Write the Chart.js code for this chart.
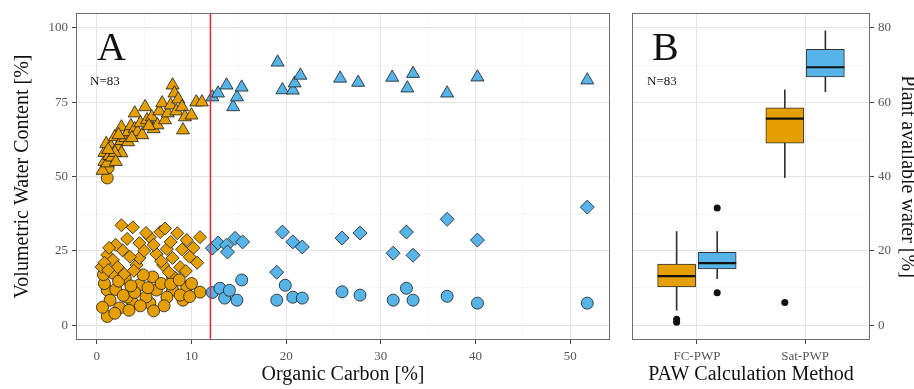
<!DOCTYPE html>
<html>
<head>
<meta charset="utf-8">
<title>Water content vs organic carbon</title>
<script src="https://cdn.jsdelivr.net/npm/chart.js@4"></script>
<style>
  html, body { margin: 0; padding: 0; background: #fff; overflow: hidden; }
  #wrap { position: relative; width: 914px; height: 389px; overflow: hidden; }
  .panel { position: absolute; top: 0; height: 389px; }
</style>
</head>
<body>
<div id="wrap">
  <div class="panel" style="left:0;width:620px"><canvas id="scatter"></canvas></div>
  <div class="panel" style="left:620px;width:310px"><canvas id="box"></canvas></div>
</div>
<script>
// ---- data: [organic carbon %, volumetric water content %] ----
const cutoffOC = 12;
const sampleCount = 83;

// saturation (triangles), OC < 12
const satMineral = [
  [0.6, 52], [0.8, 55], [0.8, 58], [1.1, 54.5], [1.0, 61], [1.3, 57], [1.6, 56.5], [1.5, 60],
  [1.9, 63.3], [2.2, 60], [2.6, 57.9], [2.6, 62], [2.6, 66.6], [3.0, 63], [3.3, 61.6], [3.3, 65],
  [3.6, 67], [4.0, 66], [4.0, 71.3], [4.3, 65], [4.6, 68], [4.8, 64], [5.1, 73.4], [5.3, 69],
  [5.8, 70], [6.0, 66], [6.4, 67.3], [6.6, 72], [6.9, 74.7], [7.2, 69], [7.5, 71.3], [7.8, 74],
  [8.0, 80.7], [8.2, 78], [8.4, 72], [8.6, 76], [9.0, 73.4], [9.1, 65.6], [9.3, 70], [10.0, 70.6],
  [10.5, 75], [11.1, 75], [1.9, 58], [2.3, 64], [3.7, 63], [5.5, 67], [2.0, 55], [1.2, 59]
];
const satMineralRound = [[1.1, 49.5], [1.2, 53]];
// field capacity (diamonds), OC < 12
const fcMineral = [
  [2.6, 33.6], [1.1, 23.6], [0.5, 19.6], [4.2, 20.2], [7.0, 20.2], [10.9, 29.6], [9.5, 28.6],
  [8.5, 30.9], [6.7, 31.3], [5.6, 29.6], [4.5, 27.6], [3.8, 32.9], [2.7, 25.2], [1.7, 21.9],
  [4.5, 22.6], [6.3, 23.9], [7.4, 25.6], [8.0, 22.6], [3.2, 29], [5.0, 25], [9.0, 25.5],
  [2.0, 27], [6.0, 27], [7.8, 28], [3.5, 23], [1.3, 26], [10.2, 26], [7.2, 32.5], [5.2, 31],
  [0.8, 21], [2.2, 19.5], [8.8, 19.5], [9.8, 23], [6.8, 21.5], [1.2, 18.5], [2.9, 17.2],
  [3.9, 18.3], [7.6, 17.8], [9.4, 18.2], [10.6, 21]
];
// permanent wilting point (circles), OC < 12
const pwpMineral = [
  [1.1, 11.8], [1.1, 2.9], [2.4, 5.8], [3.0, 15.8], [4.5, 13.5], [3.8, 7.4], [5.6, 7.4],
  [6.3, 11.8], [5.9, 16.2], [8.0, 16.2], [8.0, 11.8], [9.1, 8.4], [9.5, 12.8], [10.9, 11.1],
  [3.2, 9.4], [1.4, 8.4], [7.4, 9.4], [8.8, 10.1], [1.7, 17.5], [4.9, 16.9], [0.8, 14],
  [2.0, 12], [2.8, 10], [4.0, 11], [5.2, 9.5], [6.8, 14], [7.1, 6.5], [0.6, 6], [1.9, 4],
  [3.4, 5], [10.0, 14], [4.6, 6.5], [6.0, 4.8], [0.7, 17], [2.3, 14.8], [3.6, 13.2],
  [5.4, 12.6], [7.8, 13.8], [8.7, 15.2], [9.8, 9.6]
];

// OC > 12
const satOrganic = [
  [12.2, 76.7], [12.8, 78], [13.7, 80.7], [14.4, 73.4], [14.8, 76.7], [15.3, 80], [19.1, 88.4],
  [19.6, 79.1], [20.7, 79], [20.9, 81.4], [21.5, 84], [25.7, 83], [27.6, 81.6], [31.2, 83.3],
  [32.8, 79.7], [33.4, 84.6], [37, 78], [40.2, 83.4], [51.8, 82.4]
];
const fcOrganic = [
  [12.2, 25.9], [12.8, 27.6], [13.7, 26.9], [13.8, 24.6], [14.6, 29.2], [15.4, 28], [19.6, 31.3],
  [20.7, 28], [21.7, 26.3], [19.0, 17.8], [25.9, 29.3], [27.8, 31], [31.3, 24.2], [32.7, 31.3],
  [33.4, 23.5], [37, 35.6], [40.2, 28.6], [51.8, 39.7]
];
const pwpOrganic = [
  [12.2, 11], [13.0, 12.4], [13.5, 9.1], [14.0, 11.7], [14.8, 8.4], [15.3, 15.2], [19.9, 13.4],
  [19.0, 8.4], [20.7, 9.4], [21.7, 9.1], [25.9, 11.2], [27.8, 10.1], [31.3, 8.4], [32.7, 12.4],
  [33.4, 8.4], [37, 9.7], [40.2, 7.4], [51.8, 7.4]
];

// ---- box plot: plant available water [%] ----
const methods = ['FC-PWP', 'Sat-PWP'];
const mineralLow = [4.0, 39.7];
const mineralQ1 = [10.3, 49.0];
const mineralMedian = [13.2, 55.6];
const mineralQ3 = [16.4, 58.5];
const mineralHigh = [25.2, 63.3];
const mineralOutliers = [[0, 0.8], [0, 1.6], [1, 6.1]];   // [method index, value]
const organicLow = [12.5, 62.8];
const organicQ1 = [15.1, 66.8];
const organicMedian = [16.7, 69.4];
const organicQ3 = [19.6, 74.2];
const organicHigh = [25.2, 79.2];
const organicOutliers = [[0, 8.7], [0, 31.5]];

const ORANGE = '#E69F00';
const BLUE = '#56B4E9';
const SERIF = "'Liberation Serif', 'Times New Roman', serif";

Chart.defaults.font.family = SERIF;
Chart.defaults.animation = false;

const toXY = pts => pts.map(p => ({ x: p[0], y: p[1] }));

function pointSet(pts, style, fill, r) {
  return {
    type: 'scatter',
    data: toXY(pts),
    pointStyle: style,
    pointRadius: r,
    pointBackgroundColor: fill,
    pointBorderColor: '#1a1a1a',
    pointBorderWidth: 0.8
  };
}

function grid(isMajor) {
  const maj = c => c.tick && isMajor(c.tick.value);
  return {
    offset: false,
    color: c => maj(c) ? '#e4e4e4' : '#f2f2f2',
    lineWidth: c => maj(c) ? 1 : 0.6,
    tickColor: c => maj(c) ? '#444' : 'rgba(0,0,0,0)',
    tickLength: 4
  };
}

// fixed axis box sizes, no extra label overhang padding
const fixHeight = h => s => { s.height = h; s.paddingLeft = 0; s.paddingRight = 0; };
const fixWidth = w => s => { s.width = w; s.paddingTop = 0; s.paddingBottom = 0; };

const tickFont = { size: 13 };
const titleFont = { size: 20 };

function decor(letter, letterDx, nDx, drawCutoff) {
  return {
    id: 'decor' + letter,
    afterDatasetsDraw(chart) {
      const { ctx, chartArea: a } = chart;
      ctx.save();
      if (drawCutoff) {
        const x = chart.scales.x.getPixelForValue(cutoffOC);
        ctx.strokeStyle = '#e6262e';
        ctx.lineWidth = 1.5;
        ctx.beginPath();
        ctx.moveTo(x, a.top);
        ctx.lineTo(x, a.bottom);
        ctx.stroke();
      }
      ctx.strokeStyle = '#6e6e6e';
      ctx.lineWidth = 1;
      ctx.strokeRect(a.left + 0.5, a.top + 0.5, a.right - a.left - 1, a.bottom - a.top - 1);
      ctx.fillStyle = '#111';
      ctx.textBaseline = 'alphabetic';
      ctx.font = '40px ' + SERIF;
      ctx.fillText(letter, a.left + letterDx, a.top + 47);
      ctx.font = '13px ' + SERIF;
      ctx.fillText('N=' + sampleCount, a.left + nDx, a.top + 72);
      ctx.restore();
    }
  };
}

// ---- panel A ----
new Chart(document.getElementById('scatter'), {
  type: 'scatter',
  data: {
    datasets: [
      pointSet(satOrganic, 'triangle', BLUE, 7.5),
      pointSet(fcOrganic, 'rectRot', BLUE, 7),
      pointSet(pwpOrganic, 'circle', BLUE, 6),
      pointSet(satMineral, 'triangle', ORANGE, 7.5),
      pointSet(satMineralRound, 'circle', ORANGE, 6),
      pointSet(fcMineral, 'rectRot', ORANGE, 6.5),
      pointSet(pwpMineral, 'circle', ORANGE, 6)
    ]
  },
  options: {
    responsive: true,
    maintainAspectRatio: false,
    events: [],
    layout: { autoPadding: false, padding: { top: 13, right: 10, left: 0, bottom: 0 } },
    plugins: { legend: { display: false }, tooltip: { enabled: false } },
    scales: {
      x: {
        type: 'linear', min: -2.2, max: 54.2,
        afterBuildTicks: s => { s.ticks = [0, 5, 10, 15, 20, 25, 30, 35, 40, 45, 50].map(v => ({ value: v })); },
        afterFit: fixHeight(49),
        ticks: { autoSkip: false, maxRotation: 0, padding: 5, color: '#555', font: tickFont,
                 callback: v => v % 10 === 0 ? v : '' },
        grid: grid(v => v % 10 === 0),
        border: { display: false },
        title: { display: true, text: 'Organic Carbon [%]', color: '#111', font: titleFont, padding: { top: 0, bottom: 2 } }
      },
      y: {
        type: 'linear', min: -5, max: 105,
        afterBuildTicks: s => { s.ticks = [0, 12.5, 25, 37.5, 50, 62.5, 75, 87.5, 100].map(v => ({ value: v })); },
        afterFit: fixWidth(76),
        ticks: { autoSkip: false, padding: 4, color: '#555', font: tickFont,
                 callback: v => v % 25 === 0 ? v : '' },
        grid: grid(v => v % 25 === 0),
        border: { display: false },
        title: { display: true, text: 'Volumetric Water Content [%]', color: '#111', font: titleFont, padding: { top: 11, bottom: 0 } }
      }
    }
  },
  plugins: [decor('A', 21, 14, true)]
});

// ---- panel B ----
const dodge = 0.1875;
const boxX = (i, side) => i + 1 + side * dodge;

function boxSets(low, q1, med, q3, high, outliers, side, fill) {
  return [
    {
      type: 'bar', grouped: false, order: 5, barThickness: 1,
      data: methods.map((m, i) => ({ x: boxX(i, side), y: [low[i], high[i]] })),
      backgroundColor: '#333'
    },
    {
      type: 'bar', grouped: false, order: 4, barThickness: 38,
      data: methods.map((m, i) => ({ x: boxX(i, side), y: [q1[i], q3[i]] })),
      backgroundColor: fill, borderColor: '#333', borderWidth: 1, borderSkipped: false
    },
    {
      type: 'scatter', order: 3,
      data: methods.map((m, i) => ({ x: boxX(i, side), y: med[i] })),
      pointStyle: 'line', pointRadius: 19, pointBorderColor: '#111', pointBorderWidth: 2.2
    },
    {
      type: 'scatter', order: 2,
      data: outliers.map(o => ({ x: boxX(o[0], side), y: o[1] })),
      pointStyle: 'circle', pointRadius: 3.5, pointBackgroundColor: '#111', pointBorderWidth: 0
    }
  ];
}

new Chart(document.getElementById('box'), {
  type: 'scatter',
  data: {
    datasets: [
      ...boxSets(mineralLow, mineralQ1, mineralMedian, mineralQ3, mineralHigh, mineralOutliers, -1, ORANGE),
      ...boxSets(organicLow, organicQ1, organicMedian, organicQ3, organicHigh, organicOutliers, 1, BLUE)
    ]
  },
  options: {
    responsive: true,
    maintainAspectRatio: false,
    events: [],
    layout: { autoPadding: false, padding: { top: 13, right: 0, left: 12, bottom: 0 } },
    plugins: { legend: { display: false }, tooltip: { enabled: false } },
    scales: {
      x: {
        type: 'linear', min: 0.4, max: 2.6, offset: false,
        afterBuildTicks: s => { s.ticks = methods.map((m, i) => ({ value: i + 1 })); },
        afterFit: fixHeight(49),
        ticks: { autoSkip: false, maxRotation: 0, padding: 5, color: '#555', font: tickFont,
                 callback: v => methods[v - 1] },
        grid: grid(() => true),
        border: { display: false },
        title: { display: true, text: 'PAW Calculation Method', color: '#111', font: titleFont, padding: { top: 0, bottom: 2 } }
      },
      y: {
        type: 'linear', position: 'right', min: -4, max: 84,
        afterBuildTicks: s => { s.ticks = [0, 10, 20, 30, 40, 50, 60, 70, 80].map(v => ({ value: v })); },
        afterFit: fixWidth(60),
        ticks: { autoSkip: false, padding: 4, color: '#555', font: tickFont,
                 callback: v => v % 20 === 0 ? v : '' },
        grid: grid(v => v % 20 === 0),
        border: { display: false },
        title: { display: true, text: 'Plant available water [%]', color: '#111', font: titleFont, padding: { top: 11, bottom: 0 } }
      }
    }
  },
  plugins: [decor('B', 20, 15, false)]
});
</script>
</body>
</html>
